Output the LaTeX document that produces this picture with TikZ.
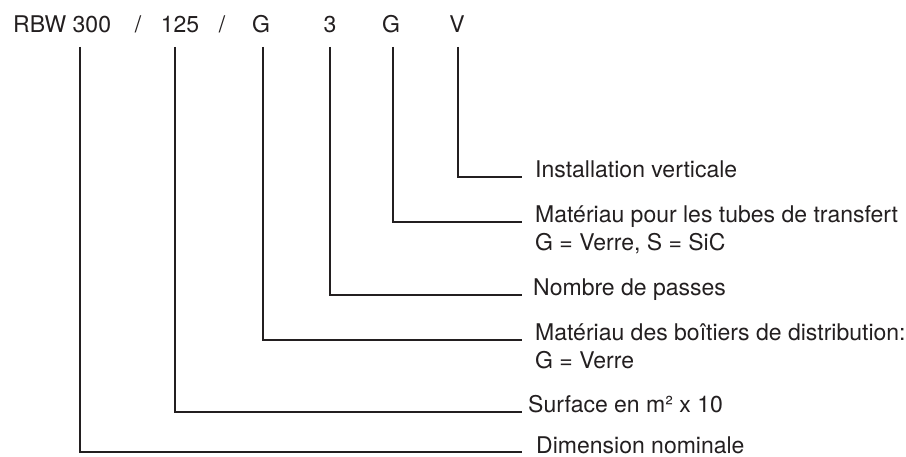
\documentclass[tikz,border=0pt]{standalone}
\usepackage{fontspec}
\setmainfont{TeX Gyre Heros}
\usetikzlibrary{positioning}
\definecolor{ink}{HTML}{231F20}

\begin{document}
\begin{tikzpicture}[x=1pt,y=-1pt,code/.style={anchor=base,inner sep=0,font=\fontsize{23}{28}\selectfont,text=ink},lab/.style={anchor=base west,inner xsep=13pt,inner ysep=0,font=\fontsize{23}{28}\selectfont,text=ink},ln/.style={draw=ink,line width=1.8pt}]
\useasboundingbox (0,0) rectangle (906,457);
% type code
\node[code,anchor=base west] (rbw) at (13,33) {RBW 300};
\node[code] (sl1) at (138,33) {/};
\node[code] (ar) at (180,33) {125};
\node[code] (sl2) at (222,33) {/};
\node[code] (box) at (261,33) {G};
\node[code] (pas) at (330,33) {3};
\node[code] (tub) at (391,33) {G};
\node[code] (ver) at (457,33) {V};
\foreach \n/\x in {k1/80,k2/175,k3/263,k4/330,k5/393,k6/458} {\coordinate (\n) at (\x,47);}
% explanations
\node[lab] (inst) at (522,178) {Installation verticale};
\node[lab] (mtub) at (522,223) {Matériau pour les tubes de transfert};
\node[lab] (mtub2) at (522,251) {G = Verre, S = SiC};
\node[lab,inner xsep=11pt] (npas) at (522,296) {Nombre de passes};
\node[lab] (mbox) at (522,341) {Matériau des boîtiers de distribution:};
\node[lab] (mbox2) at (522,369) {G = Verre};
\node[lab,inner xsep=6pt] (surf) at (522,413) {Surface en m² x 10};
\node[lab,inner xsep=14pt] (dim) at (522,453) {Dimension nominale};
\draw[ln] (k6) |- ([yshift=1pt]inst.base west);
\draw[ln] (k5) |- ([yshift=1pt]mtub.base west);
\draw[ln] (k4) |- ([yshift=1pt]npas.base west);
\draw[ln] (k3) |- ([yshift=1pt]mbox.base west);
\draw[ln] (k2) |- ([yshift=1pt]surf.base west);
\draw[ln] (k1) |- ([yshift=1pt]dim.base west);
\end{tikzpicture}
\end{document}
